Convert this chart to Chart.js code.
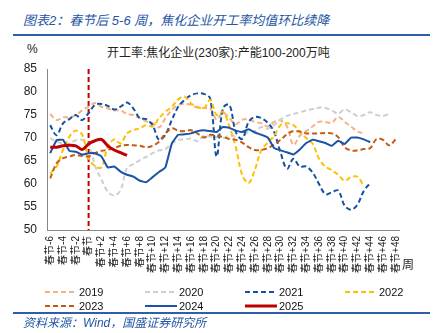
<!DOCTYPE html>
<html>
<head>
<meta charset="utf-8">
<script src="https://cdn.jsdelivr.net/npm/chart.js@4.4.1/dist/chart.umd.min.js"></script>
<style>
  body { margin: 0; width: 435px; height: 333px; background: #fff; position: relative; overflow: hidden;
         font-family: "Liberation Sans", Arial, "Noto Sans CJK SC", sans-serif; }
  .title { position: absolute; left: 23px; top: 13px; font-size: 13px; line-height: 16px; font-style: italic; color: #2456a4; white-space: nowrap; }
  .rule { position: absolute; left: 13px; width: 417px; height: 2px; background: #2e5ea8; }
  .sub { position: absolute; left: 107px; top: 46px; font-size: 12px; line-height: 14px; color: #222; white-space: nowrap; }
  .unit { position: absolute; font-size: 12px; line-height: 14px; color: #222; }
  .src { position: absolute; left: 23px; top: 316px; font-size: 12px; line-height: 14px; font-style: italic; color: #2456a4; white-space: nowrap; }
  #wrap { position: absolute; left: 0; top: 38px; width: 435px; height: 250px; }
  .lg { position: absolute; height: 14px; font-size: 11px; line-height: 14px; color: #111; white-space: nowrap; }
  .lg svg { position: absolute; left: 0; top: 5px; }
  .lg span { position: absolute; left: 34px; top: 0; }
</style>
</head>
<body>
<div class="title">图表2：春节后 5-6 周，焦化企业开工率均值环比续降</div>
<div class="rule" style="top:34px"></div>
<div class="unit" style="left:27px;top:42px">%</div>
<div class="sub">开工率:焦化企业(230家):产能100-200万吨</div>
<div id="wrap"><canvas id="chart"></canvas></div>
<div class="unit" style="left:402px;top:258px">周</div>
<div id="legend"></div>
<div class="rule" style="top:312px"></div>
<div class="src">资料来源：Wind，国盛证券研究所</div>

<script>
// weeks relative to Spring Festival
const weeks = ['春节-6', '春节-5', '春节-4', '春节-3', '春节-2', '春节-1', '春节',
  '春节+1', '春节+2', '春节+3', '春节+4', '春节+5', '春节+6', '春节+7', '春节+8', '春节+9', '春节+10',
  '春节+11', '春节+12', '春节+13', '春节+14', '春节+15', '春节+16', '春节+17', '春节+18', '春节+19', '春节+20',
  '春节+21', '春节+22', '春节+23', '春节+24', '春节+25', '春节+26', '春节+27', '春节+28', '春节+29', '春节+30',
  '春节+31', '春节+32', '春节+33', '春节+34', '春节+35', '春节+36', '春节+37', '春节+38', '春节+39', '春节+40',
  '春节+41', '春节+42', '春节+43', '春节+44', '春节+45', '春节+46', '春节+47', '春节+48'];
const festival = '春节';

const years = ['2019', '2020', '2021', '2022', '2023', '2024', '2025'];

const y2019 = [75.2, 73.9, 74.5, 74.5, 75.0, 76.0, 76.8, 77.6, 76.8, 76.4, 76.0, 76.0, 75.2, 75.0, 74.3, 73.6, 73.2,
  72.3, 74.3, 76.1, 77.2, 77.4, 77.2, 76.6, 76.5, 76.4, 74.0, 75.5, 74.3, 73.0, 74.0, 74.0, 73.5, 73.2, 72.5, 73.5,
  73.8, 72.5, 68.5, 70.5, 71.5, 72.5, 73.5, 73.5, 73.3, 74.6, 73.5, 72.5, 71.4, 71.0, null, null, null, null, null];
const y2020 = [70.0, 69.2, 68.8, 68.8, 69.5, 69.6, 68.8, 64.0, 61.0, 58.3, 57.5, 58.7, 63.5, 64.3, 65.2, 65.9, 66.7,
  67.3, 67.6, 68.8, 69.6, 69.7, 69.9, 69.3, 70.5, 70.3, 70.2, 70.0, 70.5, 70.3, 70.0, 71.5, 71.5, 72.4, 72.0, 72.8,
  74.0, 74.8, 75.2, 75.6, 76.0, 76.3, 76.6, 76.5, 76.0, 75.3, 76.2, 75.6, 74.8, 75.0, 75.6, 75.0, 74.8, 75.3, null];
const y2021 = [72.8, 70.6, 73.2, 74.1, 75.0, 73.9, 75.4, 77.2, 77.4, 77.0, 76.2, 76.8, 77.7, 76.4, 74.3, 74.1, 72.8,
  69.6, 70.7, 73.9, 76.8, 78.3, 79.3, 79.7, 79.6, 78.6, 66.0, 76.5, 77.2, 71.3, 69.8, 73.5, 74.6, 74.3, 73.3, 71.3,
  66.8, 63.3, 65.5, 63.8, 63.8, 62.5, 60.0, 57.8, 58.2, 58.6, 55.3, 54.4, 55.5, 58.5, 60.2, null, null, null, null];
const y2022 = [62.3, 63.8, 67.4, 70.3, 71.6, 70.7, 65.6, 63.9, 63.6, 68.1, 69.7, 68.8, 71.0, 71.7, 72.1, 72.8, 72.5,
  74.3, 75.7, 76.8, 78.4, 79.0, 77.5, 76.8, 76.4, 78.3, 75.0, 75.7, 72.5, 68.0, 62.0, 60.2, 63.2, 67.4, 69.0, 70.5,
  72.8, 73.2, 72.8, 71.4, 70.0, 68.8, 65.5, 63.8, 63.0, 62.0, 60.7, 61.5, 61.6, 59.6, null, null, null, null, null];
const y2023 = [61.2, 64.5, 65.6, 66.0, 66.3, 66.1, 66.0, 66.7, 67.2, 67.4, 67.8, 68.3, 68.5, 68.4, 68.3, 68.0, 68.3,
  69.2, 71.0, 72.1, 71.6, 71.5, 71.7, 71.0, 70.1, 70.7, 70.5, 70.2, 69.8, 69.6, 69.0, 68.0, 67.4, 67.4, 67.8, 68.6,
  69.6, 70.8, 71.5, 71.4, 71.0, 71.0, 71.0, 71.1, 71.0, 70.2, 68.0, 67.3, 67.3, 67.6, 67.8, 69.8, 69.6, 68.4, 69.8];
const y2024 = [66.7, 69.5, 69.6, 67.2, 67.0, 66.4, 66.7, 66.7, 66.0, 63.6, 63.8, 62.7, 62.0, 61.6, 60.7, 60.4, 61.5,
  62.6, 63.6, 68.8, 70.7, 70.8, 71.0, 71.5, 71.7, 71.5, 71.3, 72.4, 72.2, 71.6, 71.3, 71.9, 71.2, 70.7, 70.1, 67.8,
  67.3, 66.9, 66.4, 67.5, 68.9, 69.6, 69.3, 68.9, 68.3, 69.4, 68.7, 70.1, 70.1, 69.7, 69.1, null, null, null, null];
const y2025 = [68.0, 68.0, 68.3, 68.4, 68.3, 67.5, 68.7, 69.4, 69.7, 68.3, 67.4, 66.8, 66.2];

const yMin = 50, yMax = 85, yStep = 5;

const series = [y2019, y2020, y2021, y2022, y2023, y2024, y2025];
const colors = ['#f4b183', '#cfcfcf', '#1450a3', '#ffc000', '#c55a11', '#1a52a6', '#c00000'];
const dashed = [true, true, true, true, true, false, false];
const widths = [2, 2, 2, 2, 2, 2, 3];

const datasets = years.map((y, i) => ({
  label: y,
  data: series[i],
  borderColor: colors[i],
  backgroundColor: colors[i],
  borderWidth: widths[i],
  borderDash: dashed[i] ? [5, 3] : [],
  pointRadius: 0,
  tension: dashed[i] ? 0.35 : (i === 6 ? 0.3 : 0.1),
  order: 6 - i
}));

// red dashed line at the Spring Festival week
const festivalLine = {
  id: 'festivalLine',
  beforeDatasetsDraw(chart) {
    const x = chart.scales.x.getPixelForValue(weeks.indexOf(festival));
    const { top, bottom } = chart.chartArea;
    const ctx = chart.ctx;
    ctx.save();
    ctx.strokeStyle = '#c00000';
    ctx.lineWidth = 2;
    ctx.setLineDash([5, 3]);
    ctx.beginPath();
    ctx.moveTo(x, top);
    ctx.lineTo(x, bottom);
    ctx.stroke();
    ctx.restore();
  }
};

const font = "'Liberation Sans', Arial, 'Noto Sans CJK SC', sans-serif";

const chart = new Chart(document.getElementById('chart'), {
  type: 'line',
  data: { labels: weeks, datasets: datasets },
  options: {
    responsive: true,
    maintainAspectRatio: false,
    animation: false,
    devicePixelRatio: 1,
    layout: { padding: { top: 31, right: 36, left: 0, bottom: 0 } },
    plugins: { legend: { display: false }, tooltip: { enabled: false } },
    scales: {
      x: {
        offset: true,
        grid: { display: false, drawTicks: false },
        border: { display: true, color: '#888', width: 1 },
        ticks: {
          autoSkip: false, minRotation: 90, maxRotation: 90, padding: 6,
          color: '#222', font: { family: font, size: 10 },
          callback: (v, i) => (i % 2 === 0 ? weeks[i] : '')
        },
        afterFit: s => { s.height = 58; }
      },
      y: {
        min: yMin, max: yMax,
        grid: { display: false, drawTicks: false },
        border: { display: true, color: '#888', width: 1 },
        ticks: { stepSize: yStep, padding: 10, color: '#222', font: { family: font, size: 12 } },
        afterFit: s => { s.width = 47; }
      }
    }
  },
  plugins: [festivalLine]
});

// legend, 4 columns
const legend = document.getElementById('legend');
datasets.forEach((d, i) => {
  const item = document.createElement('div');
  item.className = 'lg';
  item.style.left = (45 + (i % 4) * 100) + 'px';
  item.style.top = (285 + Math.floor(i / 4) * 14) + 'px';
  const dash = d.borderDash.length ? 'stroke-dasharray="' + d.borderDash.join(',') + '"' : '';
  item.innerHTML = '<svg width="32" height="4"><line x1="0" y1="2" x2="32" y2="2" stroke="' + d.borderColor +
    '" stroke-width="' + d.borderWidth + '" ' + dash + '/></svg><span>' + d.label + '</span>';
  legend.appendChild(item);
});
</script>
</body>
</html>
